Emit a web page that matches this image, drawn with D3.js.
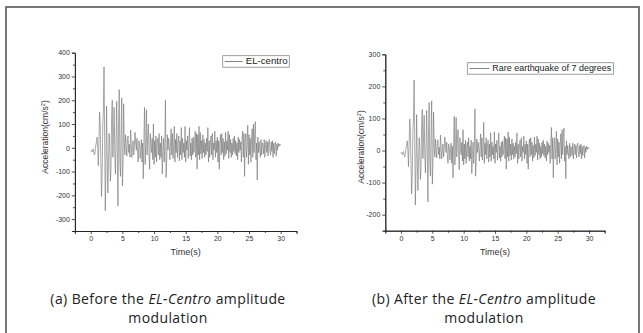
<html>
<head>
<script src="https://d3js.org/d3.v7.min.js"></script>
<style>
  body { margin: 0; background: #fff; }
</style>
</head>
<body>
<div id="chart"></div>
<script>
// sampling step of both records (s)
var tStep = 0.1;

// EL-centro record before amplitude modulation (cm/s^2), one value every tStep from t=0
var elCentro = [
  -10, -12, -18, -8, -5, -22, -30, -15, 10, 25,
  45, 5, -75, 30, 150, 100, -60, -205, -120, 90,
  160, 340, 40, -265, -80, 175, -30, -190, -60, 60,
  20, -140, -90, 130, 200, -40, 60, 170, -20, -110,
  30, 195, -20, -245, 100, 245, -60, -120, 80, 210,
  -160, -70, 185, 20, -30, 55, 10, -35, 40, 50,
  -20, 15, -40, 75, 20, -40, 10, 30, -30, 5,
  65, 20, -10, 40, -20, -60, 30, 20, -45, -10,
  35, -60, 20, -130, 40, 170, -70, 20, 160, -30,
  50, 100, -20, -90, 60, 10, -20, 40, -50, 100,
  -70, 30, -40, 50, -60, 20, 40, -30, 60, -50,
  20, -40, 50, -110, -20, 40, -60, 10, 200, -125,
  -50, 55, -10, 40, 15, -50, 20, 80, -30, 60,
  -45, 10, 90, -60, 35, -20, 60, -40, 20, 50,
  -55, 30, -30, 85, -50, 40, -20, 20, -40, 90,
  -60, 30, -10, 50, -45, 20, 85, -35, 20, -50,
  40, -30, 45, -20, 10, 70, -40, 60, -90, 55,
  -30, 90, -50, 65, -25, 30, -45, 55, -20, 35,
  -40, 20, -30, 40, -15, 85, -60, 30, -40, 20,
  50, -30, 60, -50, 20, -10, 70, -40, 30, -20,
  45, -60, 30, -90, 20, 55, -30, 60, -20, 40,
  -50, 25, -35, 65, -25, 30, -10, 70, -45, 55,
  -20, 35, -40, 20, -30, 40, -15, 50, -25, 30,
  -35, 20, -50, 45, -20, 35, -10, 25, -60, 40,
  70, -40, 60, -120, 30, 60, -40, 20, 95, -70,
  55, -30, 40, -60, 30, 80, -40, 100, -20, 60,
  110, -50, 20, -135, 45, -20, 25, -10, -40, 35,
  -30, 20, 10, -25, 35, -40, 15, 30, -20, 25,
  -35, 20, 35, -10, -30, 25, -15, 30, -40, 20,
  -25, 10, 25, -35, 15, -10, 20, 5, 15, 10,
  15
];

// rare earthquake of 7 degrees (after modulation)
var rareQuake = [
  -5, -8, -12, -5, -3, -15, -20, -10, 6, 16,
  30, 3, -50, 20, 98, 65, -40, -135, -80, 60,
  105, 220, 25, -170, -52, 112, -20, -125, -40, 40,
  13, -90, -58, 85, 128, -25, 40, 110, -13, -70,
  20, 125, -13, -160, 65, 150, -40, -80, 52, 155,
  -105, -45, 120, 13, -20, 36, 6, -23, 26, 33,
  -13, 10, -26, 48, 13, -26, 6, 20, -20, 3,
  42, 13, -6, 26, -13, -40, 20, 13, -30, -6,
  23, -40, 13, -85, 26, 107, -45, 13, 103, -20,
  32, 65, -13, -60, 40, 6, -13, 26, -33, 65,
  -45, 20, -26, 32, -40, 13, 26, -20, 40, -33,
  13, -26, 32, -72, -13, 26, -40, 6, 130, -80,
  -33, 36, -6, 26, 10, -33, 13, 52, -20, 40,
  -30, 6, 88, -40, 23, -13, 40, -26, 13, 32,
  -36, 20, -20, 55, -33, 26, -13, 13, -26, 58,
  -40, 20, -6, 32, -30, 13, 55, -23, 13, -33,
  26, -20, 30, -13, 6, 45, -26, 40, -58, 36,
  -20, 58, -33, 42, -16, 20, -30, 36, -13, 23,
  -26, 13, -20, 26, -10, 55, -40, 20, -26, 13,
  32, -20, 40, -33, 13, -6, 45, -26, 20, -13,
  30, -40, 20, -58, 13, 36, -20, 40, -13, 26,
  -33, 16, -23, 42, -16, 20, -6, 45, -30, 36,
  -13, 23, -26, 13, -20, 26, -10, 32, -16, 20,
  -23, 13, -33, 30, -13, 23, -6, 16, -40, 26,
  72, -26, 40, -85, 20, 40, -26, 13, 60, -45,
  36, -20, 26, -40, 20, 52, -26, 65, -13, 40,
  70, -33, 13, -88, 30, -13, 16, -6, -26, 23,
  -20, 13, 6, -16, 23, -26, 10, 20, -13, 16,
  -23, 13, 23, -6, -20, 16, -10, 20, -26, 13,
  -16, 6, 16, -23, 10, -6, 13, 3, 10, 6,
  10
];

var xTicks = [0, 5, 10, 15, 20, 25, 30];
var yTicksA = [-300, -200, -100, 0, 100, 200, 300, 400];
var yTicksB = [-200, -100, 0, 100, 200, 300];

var width = 643, height = 333;

var svg = d3.select("#chart").append("svg")
    .attr("width", width)
    .attr("height", height);

svg.append("rect")
    .attr("x", 0).attr("y", 0)
    .attr("width", width).attr("height", height)
    .attr("fill", "#fff");

// outer frame (bottom edge runs off the picture)
svg.append("rect")
    .attr("x", 6).attr("y", 7)
    .attr("width", 633).attr("height", 340)
    .attr("fill", "none")
    .attr("stroke", "#555")
    .attr("stroke-width", 1.6);

var axisFont = "Liberation Sans, Arial, sans-serif";

function drawPanel(opt) {
    var xs = d3.scaleLinear().domain([-2.5, 32.5]).range([opt.left, opt.right]);
    var ys = d3.scaleLinear().domain(opt.yDomain).range([opt.bottom, opt.top]);
    var g = svg.append("g");

    var minorX = d3.range(-2.5, 32.6, 2.5).filter(function(v) { return xTicks.indexOf(v) < 0; });
    var minorY = d3.range(opt.yDomain[0], opt.yDomain[1] + 1, 50).filter(function(v) { return opt.yTicks.indexOf(v) < 0; });

    g.append("g")
        .attr("transform", "translate(0," + opt.bottom + ")")
        .call(d3.axisBottom(xs).tickValues(xTicks).tickSize(3).tickPadding(2).tickFormat(function(d) { return String(d); }));
    g.append("g")
        .attr("transform", "translate(0," + opt.bottom + ")")
        .call(d3.axisBottom(xs).tickValues(minorX).tickSize(2).tickFormat("").tickSizeOuter(0));

    g.append("g")
        .attr("transform", "translate(" + opt.left + ",0)")
        .call(d3.axisLeft(ys).tickValues(opt.yTicks).tickSize(3).tickPadding(2).tickFormat(function(d) { return String(d); }));
    g.append("g")
        .attr("transform", "translate(" + opt.left + ",0)")
        .call(d3.axisLeft(ys).tickValues(minorY).tickSize(2).tickFormat("").tickSizeOuter(0));

    g.selectAll(".domain").attr("stroke", "#222").attr("stroke-width", 0.9);
    g.selectAll(".tick line").attr("stroke", "#222").attr("stroke-width", 0.8);
    g.selectAll(".tick text")
        .attr("font-family", axisFont)
        .attr("font-size", "7px")
        .attr("fill", "#333");

    var line = d3.line()
        .x(function(d, i) { return xs(i * tStep); })
        .y(function(d) { return ys(d); });

    g.append("path")
        .datum(opt.values)
        .attr("d", line)
        .attr("fill", "none")
        .attr("stroke", "#707070")
        .attr("stroke-width", 0.6);

    // axis titles
    var yl = g.append("text")
        .attr("transform", "translate(" + opt.yLabelX + "," + opt.yLabelY + ")rotate(-90)")
        .attr("text-anchor", "middle")
        .attr("font-family", axisFont)
        .attr("font-size", "8.5px")
        .attr("fill", "#333");
    yl.append("tspan").text("Acceleration(cm/s");
    yl.append("tspan").attr("font-size", "5.5px").attr("dy", -3).text("2");
    yl.append("tspan").attr("dy", 3).text(")");

    g.append("text")
        .attr("x", (xs(0) + xs(30)) / 2)
        .attr("y", opt.bottom + 24)
        .attr("text-anchor", "middle")
        .attr("font-family", axisFont)
        .attr("font-size", "9px")
        .attr("fill", "#333")
        .text("Time(s)");

    // legend
    var lg = opt.legend;
    g.append("rect")
        .attr("x", lg.x).attr("y", lg.y)
        .attr("width", lg.w).attr("height", 11.5)
        .attr("fill", "#fff")
        .attr("stroke", "#888")
        .attr("stroke-width", 0.8);
    g.append("line")
        .attr("x1", lg.x + 2).attr("x2", lg.x + 2 + lg.line)
        .attr("y1", lg.y + 5.8).attr("y2", lg.y + 5.8)
        .attr("stroke", "#666").attr("stroke-width", 0.8);
    g.append("text")
        .attr("x", lg.x + lg.line + 5)
        .attr("y", lg.y + 8.6)
        .attr("font-family", axisFont)
        .attr("font-size", "8.5px")
        .attr("textLength", lg.textW)
        .attr("lengthAdjust", "spacingAndGlyphs")
        .attr("fill", "#222")
        .text(lg.label);

    // caption, two centred lines
    var capStyle = function(t) {
        return t.attr("text-anchor", "middle")
            .attr("font-family", "Open Sans, Noto Sans, sans-serif")
            .attr("font-size", "14px")
            .attr("letter-spacing", "0.4px")
            .attr("fill", "#222");
    };
    var l1 = capStyle(svg.append("text")).attr("x", opt.capX).attr("y", 304);
    l1.append("tspan").text(opt.caption[0]);
    l1.append("tspan").attr("font-style", "italic").text("EL-Centro");
    l1.append("tspan").text(" amplitude");
    capStyle(svg.append("text")).attr("x", opt.capX).attr("y", 323).text("modulation");
}

drawPanel({
    left: 74.9, right: 296.5, top: 52.7, bottom: 231,
    yDomain: [-350, 400], yTicks: yTicksA, values: elCentro,
    yLabelX: 48, yLabelY: 137,
    legend: { x: 222.7, y: 55.7, w: 66.6, line: 18, textW: 42, label: "EL-centro" },
    caption: ["(a) Before the "], capX: 168
});

drawPanel({
    left: 385.3, right: 604.7, top: 54.3, bottom: 230.7,
    yDomain: [-250, 300], yTicks: yTicksB, values: rareQuake,
    yLabelX: 364, yLabelY: 147,
    legend: { x: 467.3, y: 62.7, w: 146.2, line: 20, textW: 119, label: "Rare earthquake of 7 degrees" },
    caption: ["(b) After the "], capX: 484
});
</script>
</body>
</html>
